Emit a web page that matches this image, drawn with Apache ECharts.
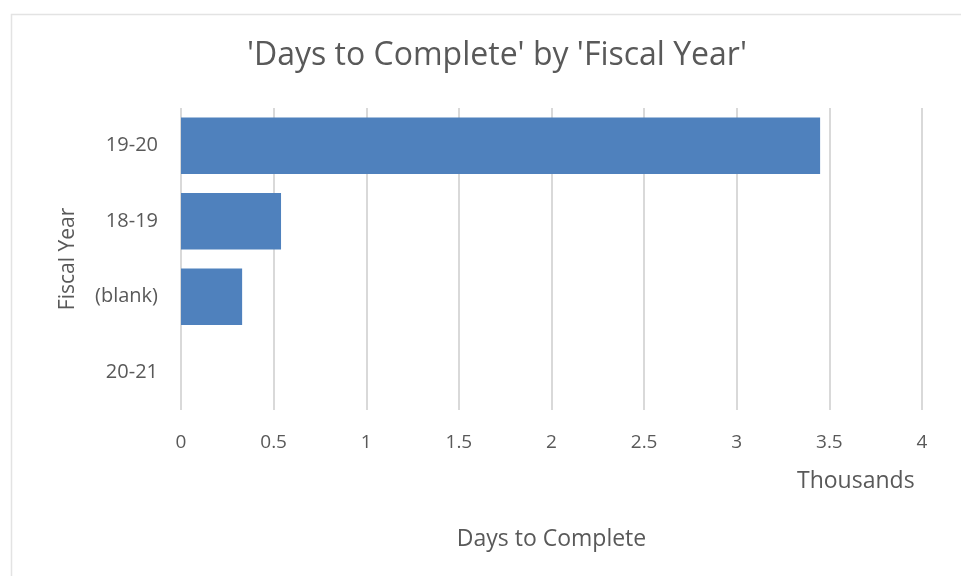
<!DOCTYPE html>
<html>
<head>
<meta charset="utf-8">
<script src="https://cdn.jsdelivr.net/npm/echarts@6/dist/echarts.min.js"></script>
<style>html,body{margin:0;padding:0;background:#fff}#c{width:961px;height:576px}</style>
</head>
<body>
<div id="c"></div>
<script>
const categories = ['20-21', '(blank)', '18-19', '19-20'];
const values = [0, 0.33, 0.54, 3.45];
const xTicks = { min: 0, max: 4, interval: 0.5 };

const FONT = '"Open Sans", "Noto Sans", sans-serif';
const TXT = '#595959';
const chart = echarts.init(document.getElementById('c'), null, { renderer: 'canvas' });
chart.setOption({
  animation: false,
  backgroundColor: '#fff',
  title: {
    text: "'Days to Complete' by 'Fiscal Year'",
    left: 242, top: 35,
    textStyle: { fontFamily: FONT, fontSize: 32, fontWeight: 'normal', color: TXT }
  },
  graphic: [
    { type: 'rect', left: 9, top: 12, shape: { width: 1000, height: 600 },
      style: { fill: 'none', stroke: '#e3e3e3', lineWidth: 1.5 }, silent: true, z: -1 },
    { type: 'text', left: 797, top: 470,
      style: { text: 'Thousands', font: '23px ' + FONT, fill: TXT } }
  ],
  grid: { left: 181, right: 39, top: 108, bottom: 166, containLabel: false },
  xAxis: {
    type: 'value', min: xTicks.min, max: xTicks.max, interval: xTicks.interval,
    axisLine: { show: false }, axisTick: { show: false },
    axisLabel: { fontFamily: FONT, fontSize: 19, color: TXT, margin: 23 },
    splitLine: { show: true, lineStyle: { color: '#d9d9d9', width: 2 } },
    name: 'Days to Complete', nameLocation: 'middle', nameGap: 118,
    nameTextStyle: { fontFamily: FONT, fontSize: 23, color: TXT }
  },
  yAxis: {
    type: 'category', data: categories,
    axisLine: { show: false }, axisTick: { show: false },
    axisLabel: { fontFamily: FONT, fontSize: 20, color: TXT, margin: 23 },
    name: 'Fiscal Year', nameLocation: 'middle', nameGap: 102, nameRotate: 90,
    nameTextStyle: { fontFamily: FONT, fontSize: 21, color: TXT }
  },
  series: [{
    type: 'bar', data: values, barCategoryGap: '25%',
    itemStyle: { color: '#4f81bd' }
  }]
});
</script>
</body>
</html>
